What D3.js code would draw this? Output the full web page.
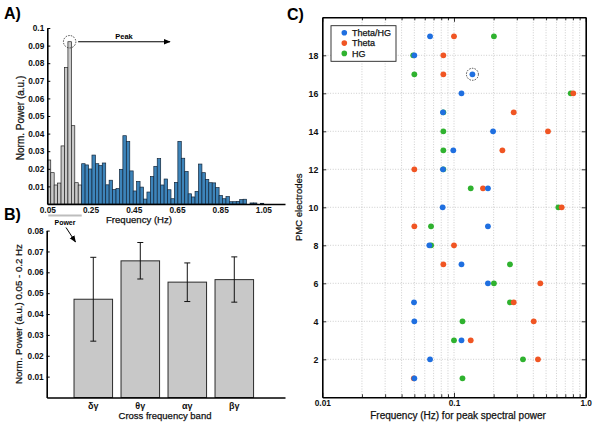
<!DOCTYPE html>
<html><head><meta charset="utf-8">
<script src="https://cdn.jsdelivr.net/npm/d3@7"></script>
<style>
body{margin:0;background:#fff;}
svg{display:block;font-family:"Liberation Sans",Arial,Helvetica,sans-serif;}
.title{fill:#111;stroke:#111;stroke-width:0.25px;}
</style></head><body>
<svg id="chart" width="601" height="426"></svg>
<script>
// ---------- Panel A data ----------
const specBinStart = 0.05;
const specBinWidth = 0.0159;
const specPowerBandEnd = 0.2;
const specPower = [
  0.025,0.0178,0.0108,0.0119,0.033,0.0775,0.0922,0.0445,0.0121,0.0108,
  0.0229,0.0222,0.0199,0.0278,0.0229,0.0218,0.0233,0.0109,0.0135,0.0082,
  0.0088,0.0197,0.0388,0.0355,0.0188,0.0074,0.0128,0.0096,0.0028,0.0068,
  0.0156,0.0214,0.0258,0.0108,0.0142,0.0081,0.003,0.0123,0.0356,0.026,
  0.0185,0.0058,0.004,0.0072,0.0227,0.0178,0.014,0.0121,0.012,0.0093,
  0.0048,0.003,0.0042,0.0013,0.0013,0.0015,0.0025,0.0027,0,0.0006,
  0.0006,0,0.0004];
const specXTicks = [0.05,0.25,0.45,0.65,0.85,1.05];
const specYTicks = [0.01,0.02,0.03,0.04,0.05,0.06,0.07,0.08,0.09,0.1];

// ---------- Panel B data ----------
const bandLabels = ["δγ","θγ","αγ","βγ"];
const bandMean = [0.0471,0.0655,0.0553,0.0565];
const bandErrLow = [0.027,0.0568,0.046,0.0457];
const bandErrHigh = [0.0672,0.0743,0.0645,0.0674];
const bandYTicks = [0.01,0.02,0.03,0.04,0.05,0.06,0.07,0.08];

// ---------- Panel C data ----------
const electrodes = [1,2,3,4,5,6,7,8,9,10,11,12,13,14,15,16,17,18,19];
const peakThetaHG = [0.05,0.0658,0.114,0.05,0.0497,0.181,0.114,0.065,0.181,0.082,0.181,0.0825,0.0988,0.198,0.0825,0.114,0.138,0.05,0.0658];
const peakTheta   = [0.0495,0.434,0.134,0.403,0.284,0.452,0.083,0.1,0.05,0.657,0.166,0.05,0.233,0.517,0.284,0.805,0.083,0.083,0.1];
const peakHG      = [0.116,0.334,0.1,0.116,0.266,0.201,0.266,0.067,0.0669,0.62,0.134,0.083,0.083,0.083,0.083,0.77,0.05,0.049,0.201];
const seriesNames = ["Theta/HG","Theta","HG"];
const seriesColors = ["#1f6fe0","#f05523","#2fb22f"];
const peakYTicks = [2,4,6,8,10,12,14,16,18];
const peakXTickLabels = {0.01:"0.01",0.1:"0.1",1:"1.0"};
const highlighted = {series:0, electrode:17};

const svg = d3.select("#chart");
const defs = svg.append("defs");
defs.append("marker").attr("id","arr").attr("viewBox","0 0 10 10")
  .attr("refX",9).attr("refY",5).attr("markerWidth",7).attr("markerHeight",7)
  .attr("markerUnits","userSpaceOnUse").attr("orient","auto")
  .append("path").attr("d","M0,1 L10,5 L0,9 Z").attr("fill","#000");

const tickFont = "8.3px";

// ================= PANEL A =================
const ax = d3.scaleLinear().domain([0.05,1.15]).range([47.3,285]);
const ay = d3.scaleLinear().domain([0,0.1]).range([204,28]);
const gA = svg.append("g");
gA.selectAll("rect.bar").data(specPower).join("rect")
  .attr("x",(d,i)=>ax(specBinStart+i*specBinWidth))
  .attr("width",(d,i)=>ax(specBinStart+(i+1)*specBinWidth)-ax(specBinStart+i*specBinWidth))
  .attr("y",d=>ay(d)).attr("height",d=>ay(0)-ay(d))
  .attr("fill",(d,i)=> (specBinStart+i*specBinWidth) < specPowerBandEnd ? "#c9c9c9" : "#3d84ba")
  .attr("stroke",(d,i)=> (specBinStart+i*specBinWidth) < specPowerBandEnd ? "#222" : "#13263a")
  .attr("stroke-width",0.7);

const ayAxis = gA.append("g").attr("transform",`translate(${ax(0.05)},0)`)
  .call(d3.axisLeft(ay).tickValues(specYTicks).tickFormat(d=>d===0.1?"0.1":d3.format(".2f")(d))
    .tickSizeInner(-3).tickSizeOuter(0).tickPadding(3));
const axAxis = gA.append("g").attr("transform",`translate(0,${ay(0)})`)
  .call(d3.axisBottom(ax).tickValues(specXTicks).tickFormat(d3.format(".2f"))
    .tickSizeInner(0).tickSizeOuter(0).tickPadding(3));
[ayAxis,axAxis].forEach(g=>{
  g.selectAll(".domain").attr("stroke","#000").attr("stroke-width",1.6);
  g.selectAll(".tick line").attr("stroke","#000");
  g.selectAll("text").attr("font-size",tickFont).attr("font-weight","bold").attr("fill","#111").attr("font-family",null);
});
gA.append("text").attr("class","title").attr("transform",`translate(23.5,${(ay(0.1)+ay(0))/2+2}) rotate(-90)`)
  .attr("text-anchor","middle").attr("font-size","10px").text("Norm. Power (a.u.)");
gA.append("text").attr("class","title").attr("x",139).attr("y",222.5).attr("text-anchor","middle")
  .attr("font-size","9.6px").text("Frequency (Hz)");
gA.append("text").attr("x",4).attr("y",19).attr("font-size","16px").attr("font-weight","bold").text("A)");

// peak annotation from data
const peakIdx = d3.maxIndex(specPower);
const pcx = ax(specBinStart+(peakIdx+0.5)*specBinWidth), pcy = ay(specPower[peakIdx]);
gA.append("circle").attr("cx",pcx).attr("cy",pcy).attr("r",6.2)
  .attr("fill","none").attr("stroke","#222").attr("stroke-width",0.8).attr("stroke-dasharray","1.5,1.2");
gA.append("line").attr("x1",pcx+8.5).attr("x2",170).attr("y1",pcy).attr("y2",pcy)
  .attr("stroke","#000").attr("stroke-width",1.1).attr("marker-end","url(#arr)");
gA.append("text").attr("x",124).attr("y",pcy-2.5).attr("text-anchor","middle")
  .attr("font-size","7.5px").attr("font-weight","bold").text("Peak");

// power band underline
gA.append("line").attr("x1",ax(specBinStart)+1).attr("x2",ax(specPowerBandEnd)+2)
  .attr("y1",215.5).attr("y2",215.5).attr("stroke","#bdbdbd").attr("stroke-width",2.2);
gA.append("text").attr("x",(ax(specBinStart)+ax(specPowerBandEnd))/2+1.5).attr("y",224.5)
  .attr("text-anchor","middle").attr("font-size","7px").attr("font-weight","bold").text("Power");
gA.append("line").attr("x1",66).attr("y1",227.5).attr("x2",75.5).attr("y2",242)
  .attr("stroke","#000").attr("stroke-width",1).attr("marker-end","url(#arr)");

// ================= PANEL B =================
const bx = d3.scaleBand().domain(bandLabels).range([46.7,285])
  .paddingInner(0.18).paddingOuter(0.625).align(0.465);
const by = d3.scaleLinear().domain([0,0.08]).range([397.5,230.6]);
const gB = svg.append("g");
gB.selectAll("rect.bbar").data(bandLabels).join("rect")
  .attr("x",d=>bx(d)).attr("width",bx.bandwidth())
  .attr("y",(d,i)=>by(bandMean[i])).attr("height",(d,i)=>by(0)-by(bandMean[i]))
  .attr("fill","#c8c8c8").attr("stroke","#2a2a2a").attr("stroke-width",1);
const capW = 3;
bandLabels.forEach((d,i)=>{
  const cx = bx(d)+bx.bandwidth()/2;
  gB.append("line").attr("x1",cx).attr("x2",cx).attr("y1",by(bandErrLow[i])).attr("y2",by(bandErrHigh[i]))
    .attr("stroke","#111").attr("stroke-width",1);
  [bandErrLow[i],bandErrHigh[i]].forEach(v=>{
    gB.append("line").attr("x1",cx-capW).attr("x2",cx+capW).attr("y1",by(v)).attr("y2",by(v))
      .attr("stroke","#111").attr("stroke-width",1);
  });
});
const byAxis = gB.append("g").attr("transform",`translate(46.7,0)`)
  .call(d3.axisLeft(by).tickValues(bandYTicks).tickFormat(d3.format(".2f"))
    .tickSizeInner(-3).tickSizeOuter(0).tickPadding(3));
const bxAxis = gB.append("g").attr("transform",`translate(0,${by(0)})`)
  .call(d3.axisBottom(bx).tickSizeInner(0).tickSizeOuter(0).tickPadding(5.5));
[byAxis,bxAxis].forEach(g=>{
  g.selectAll(".domain").attr("stroke","#000").attr("stroke-width",1.6);
  g.selectAll(".tick line").attr("stroke","#000");
  g.selectAll("text").attr("font-size",tickFont).attr("font-weight","bold").attr("fill","#111").attr("font-family",null);
});
bxAxis.selectAll("text").attr("font-size","9px");
gB.append("text").attr("class","title").attr("transform",`translate(22,${(by(0.08)+by(0))/2}) rotate(-90)`)
  .attr("text-anchor","middle").attr("font-size","9.7px").text("Norm. Power (a.u.) 0.05 - 0.2 Hz");
gB.append("text").attr("class","title").attr("x",165).attr("y",419).attr("text-anchor","middle")
  .attr("font-size","9.5px").text("Cross frequency band");
gB.append("text").attr("x",4).attr("y",220).attr("font-size","16px").attr("font-weight","bold").text("B)");

// ================= PANEL C =================
const cx = d3.scaleLog().domain([0.01,1]).range([322.3,585.7]);
const cy = d3.scaleLinear().domain([0,20]).range([397.3,17.3]);
const gC = svg.append("g");
const logTicks = cx.ticks();
// grid
gC.selectAll("line.vg").data(logTicks.filter(t=>t>0.0101 && t<0.99)).join("line")
  .attr("x1",d=>cx(d)).attr("x2",d=>cx(d)).attr("y1",cy(0)).attr("y2",cy(20))
  .attr("stroke","#b8b8b8").attr("stroke-width",0.7).attr("stroke-dasharray","1,1.6");
gC.selectAll("line.hg").data(peakYTicks).join("line")
  .attr("x1",cx(0.01)).attr("x2",cx(1)).attr("y1",d=>cy(d)).attr("y2",d=>cy(d))
  .attr("stroke","#b8b8b8").attr("stroke-width",0.7).attr("stroke-dasharray","1,1.6");

// axes
const isMajor = t => Math.abs(Math.log10(t)-Math.round(Math.log10(t)))<1e-6;
const cxBottom = gC.append("g").attr("transform",`translate(0,${cy(0)})`)
  .call(d3.axisBottom(cx).tickValues(logTicks).tickFormat(d=>isMajor(d)?peakXTickLabels[+d.toPrecision(1)]||"":"")
    .tickSizeInner(-3).tickSizeOuter(0).tickPadding(2.5));
cxBottom.selectAll(".tick line").attr("y2",d=>isMajor(d)?-4.5:-3);
const cxTop = gC.append("g").attr("transform",`translate(0,${cy(20)})`)
  .call(d3.axisTop(cx).tickValues(logTicks).tickFormat("").tickSizeInner(-3).tickSizeOuter(0));
cxTop.selectAll(".tick line").attr("y2",d=>isMajor(d)?4.5:3);
const cyLeft = gC.append("g").attr("transform",`translate(${cx(0.01)},0)`)
  .call(d3.axisLeft(cy).tickValues(peakYTicks).tickSizeInner(-4).tickSizeOuter(0).tickPadding(4));
const cyRight = gC.append("g").attr("transform",`translate(${cx(1)},0)`)
  .call(d3.axisRight(cy).tickValues(peakYTicks).tickFormat("").tickSizeInner(-4).tickSizeOuter(0));
[cxBottom,cxTop,cyLeft,cyRight].forEach(g=>{
  g.selectAll(".domain").attr("stroke","#000").attr("stroke-width",1.6);
  g.selectAll(".tick line").attr("stroke","#000").attr("stroke-width",0.8);
  g.selectAll("text").attr("font-size",tickFont).attr("font-weight","bold").attr("fill","#111").attr("font-family",null);
});
cyLeft.selectAll("text").attr("font-size","8.8px");

// points: draw HG, Theta, then Theta/HG on top
const seriesData = [peakThetaHG,peakTheta,peakHG];
[2,1,0].forEach(s=>{
  gC.selectAll(`circle.s${s}`).data(electrodes).join("circle").attr("class",`s${s}`)
    .attr("cx",(d,i)=>cx(seriesData[s][i])).attr("cy",d=>cy(d)).attr("r",2.9)
    .attr("fill",seriesColors[s]);
});
// highlight ring
const hi = electrodes.indexOf(highlighted.electrode);
gC.append("circle").attr("cx",cx(seriesData[highlighted.series][hi])).attr("cy",cy(highlighted.electrode))
  .attr("r",6).attr("fill","none").attr("stroke","#222").attr("stroke-width",0.8).attr("stroke-dasharray","1.5,1.2");

// legend
const lg = gC.append("g");
lg.append("rect").attr("x",331).attr("y",25.7).attr("width",65).attr("height",35.6)
  .attr("fill","#fff").attr("stroke","#222").attr("stroke-width",0.9);
seriesNames.forEach((n,i)=>{
  const yy = 32.8 + i*10.3;
  lg.append("circle").attr("cx",344.3).attr("cy",yy).attr("r",2.8).attr("fill",seriesColors[i]);
  lg.append("text").attr("class","title").attr("x",352).attr("y",yy+3.2).attr("font-size","9px").text(n);
});

gC.append("text").attr("class","title").attr("transform",`translate(302,${(cy(0)+cy(20))/2}) rotate(-90)`)
  .attr("text-anchor","middle").attr("font-size","9.5px").text("PMC electrodes");
gC.append("text").attr("class","title").attr("x",458).attr("y",418.5).attr("text-anchor","middle")
  .attr("font-size","10px").text("Frequency (Hz) for peak spectral power");
gC.append("text").attr("x",287).attr("y",19.5).attr("font-size","16px").attr("font-weight","bold").text("C)");
</script>
</body></html>
